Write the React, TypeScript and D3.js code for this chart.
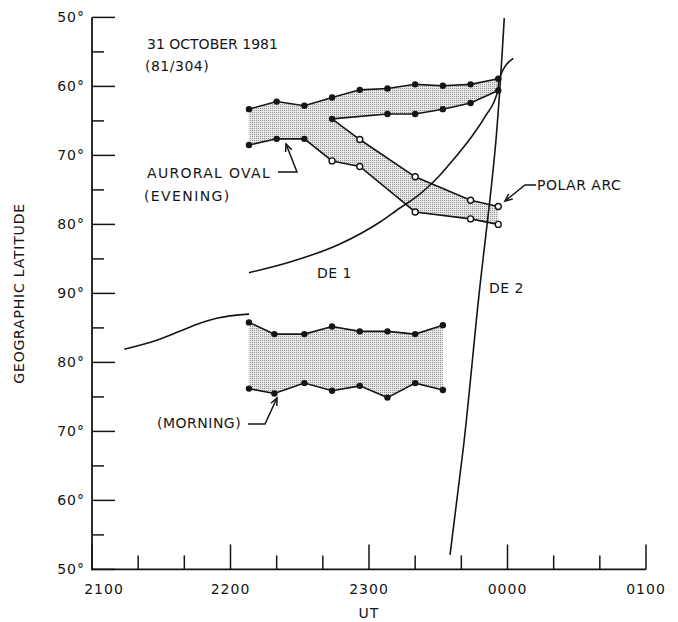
import React from "react";
import * as d3 from "d3";

const W = 678;
const H = 622;

// Time is in minutes after 2100 UT
const xMajorTicks = [0, 60, 120, 180, 240];
const xTickLabels = ["2100", "2200", "2300", "0000", "0100"];
const xMinorTicks = [20, 40, 80, 100, 140, 160, 200, 220];

// Track coordinate: evening side = latitude, morning side = 180 - latitude
const yMajorTrack = [50, 60, 70, 80, 90, 100, 110, 120, 130];
const yTickLabels = ["50°", "60°", "70°", "80°", "90°", "80°", "70°", "60°", "50°"];
const yMinorTrack = [55, 65, 75, 85, 95, 105, 115, 125];

// Auroral oval (evening)
const eveT = [68, 80, 92, 104, 116, 128, 140, 152, 164, 176];
const eveUpperLat = [63.3, 62.2, 62.8, 61.6, 60.5, 60.3, 59.7, 59.9, 59.7, 58.9];
const eveLowerT = [68, 80, 92];
const eveLowerLat = [68.5, 67.6, 67.6];
const eveInnerT = [104, 128, 140, 152, 164, 176];
const eveInnerLat = [64.7, 64.0, 64.0, 63.3, 62.4, 60.6];

// Polar arc
const arcT = [104, 116, 140, 164, 176];
const arcUpperLat = [64.7, 67.7, 73.1, 76.5, 77.4];
const arcLowerLat = [70.8, 71.6, 78.2, 79.2, 80.0];

// Auroral oval (morning)
const mornT = [68, 79, 92, 104, 116, 128, 140, 152];
const mornUpperLat = [85.8, 84.1, 84.1, 85.2, 84.5, 84.5, 84.1, 85.4];
const mornLowerLat = [76.2, 75.5, 77.0, 75.9, 76.6, 74.9, 77.0, 76.0];

// DE 1 track (morning piece, evening piece)
const de1MornT = [14, 28, 38, 47, 54, 68];
const de1MornLat = [81.9, 83.2, 84.5, 85.7, 86.4, 87.0];
const de1EveT = [68, 85.8, 107.4, 124.8, 133.4, 139.9, 145.1, 150.8, 156.4, 163.7, 170.2, 175.8, 176.4, 182.5];
const de1EveLat = [87.0, 85.45, 82.84, 79.65, 77.62, 76.17, 74.72, 72.84, 70.67, 67.62, 64.43, 60.62, 58.93, 55.93];

// DE 2 track (crosses the pole)
const de2T = [178.6, 175.0, 167.4, 160.9, 155.1];
const de2Lat = [50.1, 67.8, 89.0, 67.7, 52.1];
const de2Side = ["E", "E", "M", "M", "M"];

const x = d3.scaleLinear().domain([0, 240]).range([92, 646]);
const y = d3.scaleLinear().domain([50, 130]).range([17.4, 569.4]);
const trackE = (lat: number) => lat;
const trackM = (lat: number) => 180 - lat;

type P = [number, number];
const ptsE = (ts: number[], lats: number[]): P[] => ts.map((t, i) => [x(t), y(trackE(lats[i]))]);
const ptsM = (ts: number[], lats: number[]): P[] => ts.map((t, i) => [x(t), y(trackM(lats[i]))]);

const lin = d3.line<P>().x((d) => d[0]).y((d) => d[1]);
const smoothX = d3.line<P>().x((d) => d[0]).y((d) => d[1]).curve(d3.curveMonotoneX);
const smoothY = d3.line<P>().x((d) => d[0]).y((d) => d[1]).curve(d3.curveMonotoneY);

const FONT = "'DejaVu Sans', 'Liberation Sans', sans-serif";
const INK = "#151515";

function Arrow({ pts }: { pts: P[] }) {
  const n = pts.length;
  const [tx, ty] = pts[n - 1];
  const [px, py] = pts[n - 2];
  const ang = Math.atan2(ty - py, tx - px);
  const L = 8;
  const a1 = ang + Math.PI - 0.42;
  const a2 = ang + Math.PI + 0.42;
  const head = `M${tx + L * Math.cos(a1)},${ty + L * Math.sin(a1)}L${tx},${ty}L${tx + L * Math.cos(a2)},${ty + L * Math.sin(a2)}`;
  return (
    <g fill="none" stroke={INK} strokeWidth={1.5}>
      <path d={lin(pts) || ""} />
      <path d={head} />
    </g>
  );
}

export default function App() {
  const eUpper = ptsE(eveT, eveUpperLat);
  const eInner = ptsE(eveInnerT, eveInnerLat);
  const eLower = ptsE(eveLowerT, eveLowerLat);
  const aUpper = ptsE(arcT, arcUpperLat);
  const aLower = ptsE(arcT, arcLowerLat);
  const mUpper = ptsM(mornT, mornUpperLat);
  const mLower = ptsM(mornT, mornLowerLat);

  const eveBand: P[] = [
    ...eUpper,
    ...eInner.slice().reverse(),
    ...aUpper.slice(1),
    ...aLower.slice().reverse(),
    ...eLower.slice().reverse(),
  ];
  const mornBand: P[] = [...mUpper, ...mLower.slice().reverse()];

  const de1M = ptsM(de1MornT, de1MornLat);
  const de1E = ptsE(de1EveT, de1EveLat);
  const de2: P[] = de2T.map((t, i) => [x(t), y(de2Side[i] === "E" ? trackE(de2Lat[i]) : trackM(de2Lat[i]))]);

  const filledDots: P[] = [...eUpper, ...eInner, ...eLower, ...mUpper, ...mLower];
  const openDots: P[] = [...aUpper.slice(1), ...aLower];

  const x0 = x(0);
  const yTop = y(50);
  const yBot = y(130);

  return (
    <svg
      width={W}
      height={H}
      viewBox={`0 0 ${W} ${H}`}
      style={{ position: "absolute", left: 0, top: 0, background: "#fff" }}
    >
      <defs>
        <pattern id="stipple" width="2" height="2" patternUnits="userSpaceOnUse">
          <rect width="2" height="2" fill="#e8e8e8" />
          <rect x="0" y="0" width="1" height="1" fill="#909090" />
        </pattern>
      </defs>
      <rect width={W} height={H} fill="#fff" />

      {/* bands */}
      <path d={(lin(eveBand) || "") + "Z"} fill="url(#stipple)" stroke="none" />
      <path d={(lin(mornBand) || "") + "Z"} fill="url(#stipple)" stroke="none" />

      {/* axes */}
      <g stroke={INK} strokeWidth={1.8} fill="none">
        <line x1={x0} y1={yTop} x2={x0} y2={yBot + 0.9} />
        <line x1={x0} y1={yBot} x2={x(240)} y2={yBot} />
        {yMajorTrack.map((v) => (
          <line key={"ym" + v} x1={x0} x2={x0 + 23} y1={y(v)} y2={y(v)} strokeWidth={1.5} />
        ))}
        {yMinorTrack.map((v) => (
          <line key={"yn" + v} x1={x0} x2={x0 + 12} y1={y(v)} y2={y(v)} strokeWidth={1.5} />
        ))}
        {xMajorTicks.map((v) => (
          <line key={"xm" + v} x1={x(v)} x2={x(v)} y1={yBot} y2={yBot - 25} strokeWidth={1.5} />
        ))}
        {xMinorTicks.map((v) => (
          <line key={"xn" + v} x1={x(v)} x2={x(v)} y1={yBot} y2={yBot - 14} strokeWidth={1.5} />
        ))}
      </g>

      {/* tick labels */}
      <g fontFamily={FONT} fontSize={14} fill={INK} letterSpacing={1}>
        {yMajorTrack.map((v, i) => (
          <text key={"yl" + v} x={85} y={y(v)} textAnchor="end" dominantBaseline="central">
            {yTickLabels[i]}
          </text>
        ))}
        {xMajorTicks.map((v, i) => (
          <text key={"xl" + v} x={x(v) + (i === 0 ? 12 : 0)} y={594} textAnchor="middle">
            {xTickLabels[i]}
          </text>
        ))}
        <text x={x(120)} y={618} textAnchor="middle">UT</text>
        <text
          transform={`translate(19, ${y(90)}) rotate(-90)`}
          textAnchor="middle"
          dominantBaseline="central"
          letterSpacing={0.8}
        >
          GEOGRAPHIC LATITUDE
        </text>
      </g>

      {/* satellite tracks */}
      <g fill="none" stroke={INK} strokeWidth={1.6}>
        <path d={smoothX(de1M) || ""} />
        <path d={smoothX(de1E) || ""} />
        <path d={smoothY(de2) || ""} />
      </g>

      {/* band outlines */}
      <g fill="none" stroke={INK} strokeWidth={1.6}>
        <path d={lin(eUpper) || ""} />
        <path d={lin(eInner) || ""} />
        <path d={lin([...eLower, ...aLower]) || ""} />
        <path d={lin(aUpper) || ""} />
        <path d={lin(mUpper) || ""} />
        <path d={lin(mLower) || ""} />
      </g>

      {/* dots */}
      {filledDots.map((d, i) => (
        <circle key={"f" + i} cx={d[0]} cy={d[1]} r={3.2} fill={INK} />
      ))}
      {openDots.map((d, i) => (
        <circle key={"o" + i} cx={d[0]} cy={d[1]} r={3} fill="#fff" stroke={INK} strokeWidth={1.4} />
      ))}

      {/* annotations */}
      <g fontFamily={FONT} fontSize={14} fill={INK}>
        <text x={147} y={48.5} letterSpacing={0}>31 OCTOBER 1981</text>
        <text x={145} y={71} letterSpacing={0.5}>(81/304)</text>
        <text x={147} y={178} letterSpacing={1.3}>AURORAL OVAL</text>
        <text x={144} y={201} letterSpacing={1.4}>(EVENING)</text>
        <text x={157} y={428} letterSpacing={0.5}>(MORNING)</text>
        <text x={537} y={190} letterSpacing={0.5}>POLAR ARC</text>
        <text x={317} y={278} letterSpacing={0.5}>DE 1</text>
        <text x={489} y={293} letterSpacing={0.5}>DE 2</text>
      </g>
      <Arrow pts={[[278, 172], [297, 172], [286, 144]]} />
      <Arrow pts={[[248, 424], [265, 424], [277, 398]]} />
      <Arrow pts={[[536, 185], [525, 185], [505, 201]]} />
    </svg>
  );
}
